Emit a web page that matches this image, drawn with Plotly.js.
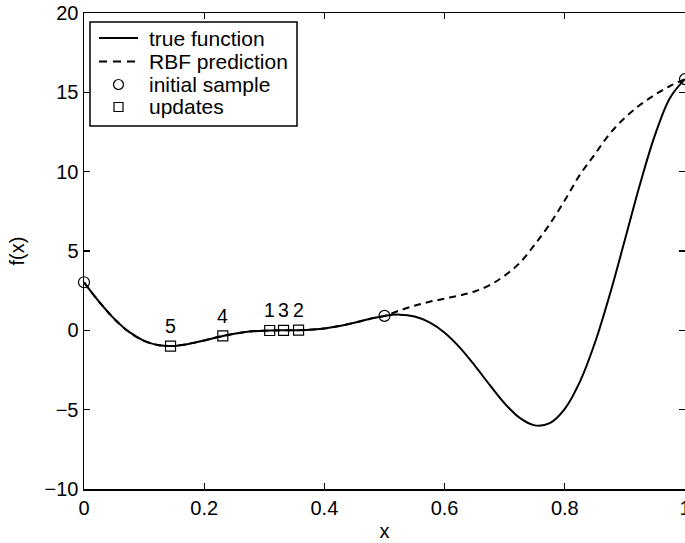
<!DOCTYPE html>
<html>
<head>
<meta charset="utf-8">
<script src="https://cdn.plot.ly/plotly-3.0.1.min.js"></script>
<style>html,body{margin:0;padding:0;background:#fff;}#chart{width:685px;height:543px;}</style>
</head>
<body>
<div id="chart"></div>
<script>
// True function
var trueX = [0,0.025,0.05,0.075,0.1,0.125,0.15,0.175,0.2,0.225,0.25,0.275,0.3,0.325,0.35,0.375,0.4,0.425,0.45,0.475,0.5,0.525,0.55,0.575,0.6,0.625,0.65,0.675,0.7,0.725,0.75,0.775,0.8,0.825,0.85,0.875,0.9,0.925,0.95,0.975,1];
var trueY = [3.03,1.81,0.74,-0.10,-0.66,-0.94,-0.98,-0.85,-0.64,-0.41,-0.21,-0.08,-0.02,0.0,0.0,0.03,0.12,0.27,0.48,0.72,0.91,0.99,0.87,0.50,-0.15,-1.07,-2.21,-3.44,-4.61,-5.52,-5.99,-5.85,-4.95,-3.25,-0.80,2.27,5.71,9.19,12.30,14.65,15.83];
// RBF prediction
var rbfX = [0,0.025,0.05,0.075,0.1,0.125,0.15,0.175,0.2,0.225,0.25,0.275,0.3,0.325,0.35,0.375,0.4,0.425,0.45,0.475,0.5,0.525,0.55,0.575,0.6,0.625,0.65,0.675,0.7,0.725,0.75,0.775,0.8,0.825,0.85,0.875,0.9,0.925,0.95,0.975,1];
var rbfY = [3.03,1.81,0.74,-0.10,-0.66,-0.94,-0.98,-0.85,-0.64,-0.41,-0.21,-0.08,-0.02,0.0,0.0,0.03,0.12,0.27,0.48,0.72,0.91,1.25,1.55,1.80,2.00,2.20,2.45,2.85,3.45,4.25,5.40,6.70,8.20,9.80,11.10,12.40,13.40,14.20,14.85,15.40,15.83];
// Initial sample
var initX = [0, 0.5, 1];
var initY = [3.03, 0.91, 15.83];
// Updates
var updX = [0.309, 0.357, 0.332, 0.231, 0.144];
var updY = [-0.01, 0.01, 0.0, -0.35, -0.99];
var updLabels = ["1", "2", "3", "4", "5"];
// Legend labels
var legendLabels = ["true function", "RBF prediction", "initial sample", "updates"];
// Axis ticks
var xTicks = [0, 0.2, 0.4, 0.6, 0.8, 1];
var xTickText = ["0", "0.2", "0.4", "0.6", "0.8", "1"];
var yTicks = [-10, -5, 0, 5, 10, 15, 20];

var FONT = "Liberation Sans, Arial, Helvetica, sans-serif";
var M = {l: 84, r: 0, t: 13, b: 54};
var WID = 685, HEI = 543;
var PW = WID - M.l - M.r, PH = HEI - M.t - M.b;
function px(v) { return (v - M.l) / PW; }
function py(v) { return (M.t + PH - v) / PH; }

var traces = [
  {x: trueX, y: trueY, mode: "lines", name: legendLabels[0], line: {color: "#000", width: 2, shape: "spline", smoothing: 1}},
  {x: rbfX, y: rbfY, mode: "lines", name: legendLabels[1], line: {color: "#000", width: 2, dash: "7px,5px", shape: "spline", smoothing: 1}},
  {x: initX, y: initY, mode: "markers", name: legendLabels[2], cliponaxis: false,
   marker: {symbol: "circle-open", size: 11, color: "#000", line: {width: 1.2}}},
  {x: updX, y: updY, mode: "markers", name: legendLabels[3], cliponaxis: false,
   marker: {symbol: "square-open", size: 10, color: "#000", line: {width: 1.2}}}
];

var annotations = updLabels.map(function(t, i) {
  return {x: updX[i], y: updY[i], text: t, showarrow: false, yshift: 20,
          xref: "x", yref: "y", font: {family: FONT, size: 19.5, color: "#000"}};
});

// Hand-drawn legend (box, samples, labels)
var rowY = [38, 61.5, 84.5, 107];
legendLabels.forEach(function(t, i) {
  annotations.push({xref: "paper", yref: "paper", x: px(147), y: py(rowY[i]), xanchor: "left", yanchor: "middle",
    text: t, showarrow: false, font: {family: FONT, size: 21, color: "#000"}});
});
var shapes = [
  {type: "rect", xref: "paper", yref: "paper", x0: px(90), x1: px(297), y0: py(22), y1: py(126),
   line: {color: "#000", width: 1.5}, fillcolor: "#fff", layer: "above"},
  {type: "line", xref: "paper", yref: "paper", x0: px(99), x1: px(138), y0: py(rowY[0]), y1: py(rowY[0]),
   line: {color: "#000", width: 2}},
  {type: "line", xref: "paper", yref: "paper", x0: px(99), x1: px(138), y0: py(rowY[1]), y1: py(rowY[1]),
   line: {color: "#000", width: 2, dash: "8px,6px"}},
  {type: "circle", xref: "paper", yref: "paper", x0: px(113.5), x1: px(123.5), y0: py(rowY[2] - 5), y1: py(rowY[2] + 5),
   line: {color: "#000", width: 1.2}},
  {type: "rect", xref: "paper", yref: "paper", x0: px(114), x1: px(123), y0: py(rowY[3] - 4.5), y1: py(rowY[3] + 4.5),
   line: {color: "#000", width: 1.2}}
];

var axisCommon = {
  showgrid: false, zeroline: false, showline: true, linecolor: "#000", linewidth: 1.5,
  mirror: "ticks", ticks: "inside", ticklen: 6, tickwidth: 1.2, tickcolor: "#000",
  tickfont: {family: FONT, size: 20, color: "#000"}
};

var layout = {
  width: WID, height: HEI,
  margin: M,
  paper_bgcolor: "#fff", plot_bgcolor: "#fff",
  showlegend: false,
  font: {family: FONT, size: 20, color: "#000"},
  xaxis: Object.assign({}, axisCommon, {
    range: [0, 1], tickvals: xTicks, ticktext: xTickText, ticklabeloverflow: "allow",
    title: {text: "x", font: {family: FONT, size: 20, color: "#000"}, standoff: 6}
  }),
  yaxis: Object.assign({}, axisCommon, {
    range: [-10, 20], tickvals: yTicks,
    title: {text: "f(x)", font: {family: FONT, size: 20, color: "#000"}, standoff: 14}
  }),
  annotations: annotations,
  shapes: shapes
};

Plotly.newPlot("chart", traces, layout, {displayModeBar: false, staticPlot: true});
</script>
</body>
</html>
